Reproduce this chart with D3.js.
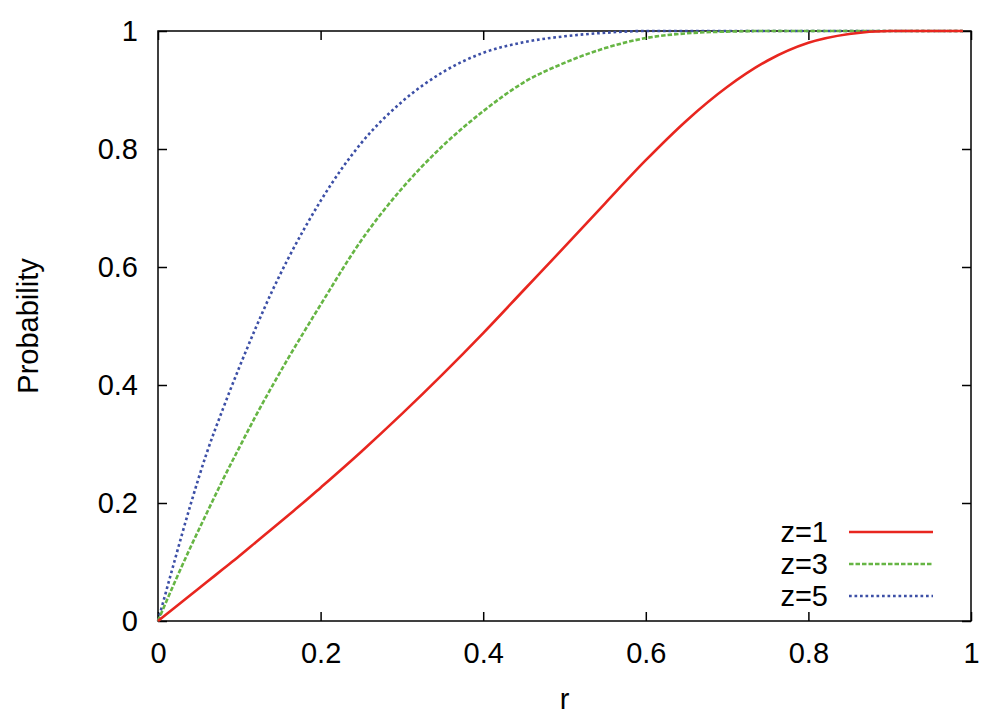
<!DOCTYPE html>
<html>
<head>
<meta charset="utf-8">
<script src="https://cdn.jsdelivr.net/npm/d3@7"></script>
<style>
  body { margin: 0; background: #fff; }
  svg { display: block; font-family: "Liberation Sans", Arial, Helvetica, sans-serif; }
</style>
</head>
<body>
<svg width="1000" height="723"></svg>
<script>
// values
var rValues = [0, 0.02, 0.04, 0.06, 0.08, 0.10, 0.12, 0.14, 0.16, 0.18, 0.20,
    0.25, 0.30, 0.35, 0.40, 0.45, 0.50, 0.55, 0.60, 0.65, 0.70, 0.75, 0.80,
    0.85, 0.90, 0.95, 0.99];
var probZ1 = [0, 0.022, 0.044, 0.066, 0.088, 0.110, 0.133, 0.156, 0.179, 0.202, 0.226,
    0.287, 0.351, 0.418, 0.488, 0.561, 0.634, 0.708, 0.781, 0.848, 0.905, 0.950, 0.980,
    0.995, 1, 1, 1];
var probZ3 = [0, 0.064, 0.125, 0.183, 0.240, 0.294, 0.347, 0.397, 0.445, 0.491, 0.536,
    0.645, 0.733, 0.805, 0.864, 0.913, 0.946, 0.971, 0.988, 0.996, 0.999, 1, 1,
    1, 1, 1, 1];
var probZ5 = [0, 0.100, 0.197, 0.285, 0.360, 0.430, 0.496, 0.558, 0.614, 0.665, 0.712,
    0.810, 0.880, 0.930, 0.963, 0.981, 0.991, 0.997, 1, 1, 1, 1, 1,
    1, 1, 1, 1];
var seriesNames = ["z=1", "z=3", "z=5"];
var xTicks = [0, 0.2, 0.4, 0.6, 0.8, 1];
var xTickLabels = ["0", "0.2", "0.4", "0.6", "0.8", "1"];
var yTicks = [0, 0.2, 0.4, 0.6, 0.8, 1];
var yTickLabels = ["0", "0.2", "0.4", "0.6", "0.8", "1"];

var svg = d3.select("svg");
var margin = {top: 31, right: 29, bottom: 102, left: 158};
var width = 1000 - margin.left - margin.right;
var height = 723 - margin.top - margin.bottom;

var g = svg.append("g")
    .attr("transform", "translate(" + margin.left + "," + margin.top + ")");

var x = d3.scaleLinear().domain([0, 1]).range([0, width]);
var y = d3.scaleLinear().domain([0, 1]).range([height, 0]);

var fontSize = 29;

// axes with inward ticks, mirrored on top and right
g.append("g")
    .attr("transform", "translate(0," + height + ")")
    .call(d3.axisBottom(x).tickValues(xTicks)
        .tickFormat(function(d, i) { return xTickLabels[i]; })
        .tickSizeInner(-9).tickSizeOuter(0).tickPadding(21))
    .call(styleAxis);
g.append("g")
    .call(d3.axisLeft(y).tickValues(yTicks)
        .tickFormat(function(d, i) { return yTickLabels[i]; })
        .tickSizeInner(-9).tickSizeOuter(0).tickPadding(20))
    .call(styleAxis);
g.append("g")
    .call(d3.axisTop(x).tickValues(xTicks).tickFormat("")
        .tickSizeInner(-9).tickSizeOuter(0))
    .call(styleAxis);
g.append("g")
    .attr("transform", "translate(" + width + ",0)")
    .call(d3.axisRight(y).tickValues(yTicks).tickFormat("")
        .tickSizeInner(-9).tickSizeOuter(0))
    .call(styleAxis);

function styleAxis(sel) {
    sel.select(".domain").remove();
    sel.selectAll(".tick line").attr("stroke", "#000").attr("stroke-width", 1.5);
    sel.selectAll(".tick text")
        .attr("fill", "#000")
        .style("font-size", fontSize + "px")
        .style("font-family", "'Liberation Sans', Arial, sans-serif");
}

// frame
g.append("rect")
    .attr("x", 0).attr("y", 0)
    .attr("width", width).attr("height", height)
    .attr("fill", "none")
    .attr("stroke", "#000")
    .attr("stroke-width", 1.5);

// series
var series = [
    {name: seriesNames[0], values: probZ1, color: "#e8261f", dash: null},
    {name: seriesNames[1], values: probZ3, color: "#66b544", dash: "4.5,2"},
    {name: seriesNames[2], values: probZ5, color: "#3c4fa6", dash: "2.7,2.8"}
];

var line = d3.line()
    .x(function(d, i) { return x(rValues[i]); })
    .y(function(d) { return y(d); })
    .curve(d3.curveMonotoneX);

// draw z=5 first so red stays on top like the reference
series.slice().reverse().forEach(function(s) {
    g.append("path")
        .datum(s.values)
        .attr("d", line)
        .attr("fill", "none")
        .attr("stroke", s.color)
        .attr("stroke-width", 2.6)
        .attr("stroke-dasharray", s.dash);
});

// legend
var legend = g.append("g")
    .attr("transform", "translate(" + (width - 143) + "," + (height - 89) + ")");
series.forEach(function(s, i) {
    var row = legend.append("g").attr("transform", "translate(0," + (i * 32) + ")");
    row.append("text")
        .attr("x", 0)
        .attr("y", 0)
        .attr("dy", "0.35em")
        .attr("text-anchor", "end")
        .style("font-size", fontSize + "px")
        .text(s.name);
    row.append("line")
        .attr("x1", 21).attr("x2", 105)
        .attr("y1", 0).attr("y2", 0)
        .attr("stroke", s.color)
        .attr("stroke-width", 2.6)
        .attr("stroke-dasharray", s.dash);
});

// axis titles
svg.append("text")
    .attr("x", margin.left + width / 2)
    .attr("y", 709)
    .attr("text-anchor", "middle")
    .style("font-size", fontSize + "px")
    .text("r");

svg.append("text")
    .attr("transform", "translate(38," + (margin.top + height / 2) + ") rotate(-90)")
    .attr("text-anchor", "middle")
    .style("font-size", fontSize + "px")
    .text("Probability");
</script>
</body>
</html>
